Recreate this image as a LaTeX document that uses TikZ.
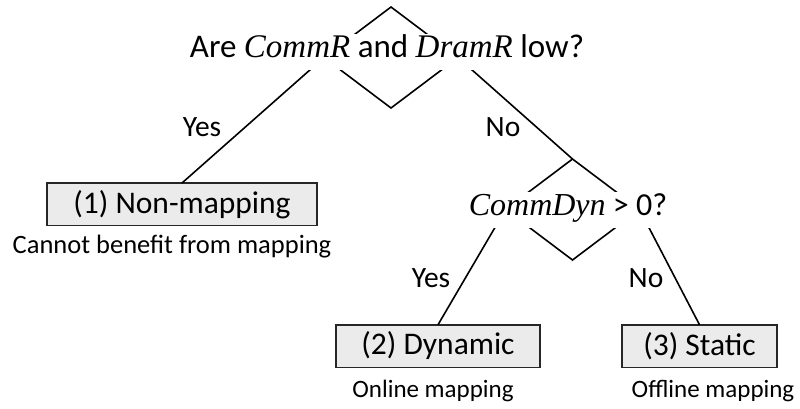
\documentclass[tikz,border=0pt]{standalone}
\usepackage{fontspec}
\setmainfont{Carlito}
\newfontfamily\varfont{Liberation Serif}
\usetikzlibrary{shapes.geometric}
\newcommand{\mvar}[1]{{\varfont\itshape #1}}
\definecolor{boxgray}{RGB}{235,235,235}

\begin{document}
\begin{tikzpicture}[x=1pt,y=-1pt,
  decision/.style={diamond, draw, line width=1.6pt, minimum width=134pt,
    minimum height=101pt, inner sep=0pt, outer sep=0pt},
  question/.style={fill=white, inner sep=0pt, text height=23pt, text depth=13pt},
  outcome/.style={draw=black!85, line width=1.5pt, fill=boxgray,
    minimum height=42.5pt, inner sep=0pt, outer sep=0pt,
    font=\fontsize{31.5}{37}\selectfont},
  edgelabel/.style={font=\fontsize{29.5}{35}\selectfont},
  note/.style={font=\fontsize{25}{30}\selectfont},
  link/.style={line width=1.6pt}]

\useasboundingbox (0,0) rectangle (800,408);

% decision diamonds
\node[decision] (d1) at (391,57.5) {};
\node[decision] (d2) at (572.5,209.5) {};

% outcome boxes
\node[outcome, minimum width=270pt] (b1) at (182,204.25) {(1) Non-mapping};
\node[outcome, minimum width=204pt] (b2) at (438,346) {(2) Dynamic};
\node[outcome, minimum width=155pt] (b3) at (699.5,346) {(3) Static};

% branches
\draw[link] (d1.west) -- (b1.north);
\draw[link] (d1.east) -- (d2.north);
\draw[link] (d2.west) -- (b2.north);
\draw[link] (d2.east) -- (b3.north);

% questions, set over the diamonds
\node[question, anchor=base, font=\fontsize{33}{39}\selectfont] (q1) at (387,57)
  {Are \mvar{CommR} and \mvar{DramR} low?};
\node[question, anchor=base, font=\fontsize{32}{38}\selectfont] (q2) at (568,215)
  {\mvar{CommDyn} > 0?};

% branch labels
\node[edgelabel] (y1) at (202,127) {Yes};
\node[edgelabel] (n1) at (503,127) {No};
\node[edgelabel] (y2) at (431,278) {Yes};
\node[edgelabel] (n2) at (646,278) {No};

% notes under the outcomes
\node[note, anchor=base, font=\fontsize{26.5}{32}\selectfont] (t1) at (172,253)
  {Cannot benefit from mapping};
\node[note, anchor=base] (t2) at (433,397) {Online mapping};
\node[note, anchor=base] (t3) at (713,397) {Offline mapping};
\end{tikzpicture}
\end{document}
